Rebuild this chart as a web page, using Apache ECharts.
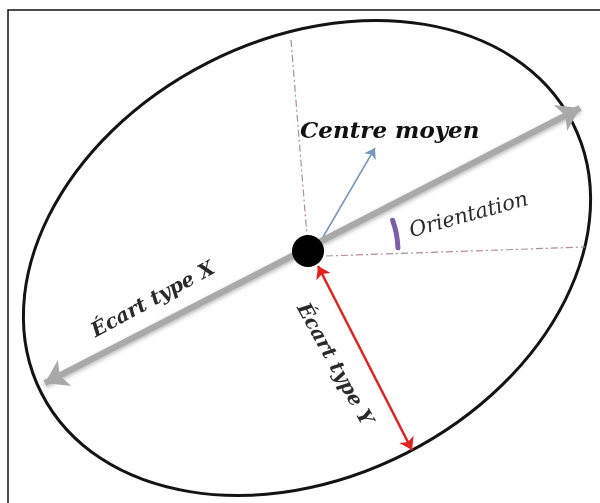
<!DOCTYPE html>
<html>
<head>
<meta charset="utf-8">
<script src="https://cdn.jsdelivr.net/npm/echarts@6/dist/echarts.min.js"></script>
<style>
  html, body { margin: 0; padding: 0; background: #fff; }
  #chart { width: 600px; height: 503px; }
</style>
</head>
<body>
<div id="chart"></div>
<script>
// geometry of the diagram, in picture units (x to the right, y downwards)
const ellipseCentre = [307, 258];
const ellipseRadii = [298, 219];
const ellipseAngle = 27;
const centrePoint = [308, 251];
const axisX = [[45, 383], [580, 108]];
const axisY = [[318, 266], [412, 450]];
const meanArrow = [[323, 237], [375, 148]];
const guideV = [[291, 40], [307, 236]];
const guideH = [[326, 256], [585, 247]];
const orientationArc = [90, -2, -20]; // radius, start angle, end angle (deg)
const labelTexts = ['Centre moyen', 'Orientation', 'Écart type X', 'Écart type Y'];
const labelAnchors = [[300, 132], [410, 232], [93, 333], [301, 305]];
const labelAngles = [0, 15.5, 28.5, -61];

const labelStyles = [
  { font: 'italic bold 23px "DejaVu Serif"', fill: '#111' },
  { font: 'italic 21px "DejaVu Serif"', fill: '#2a2a2a' },
  { font: 'italic bold 20px "DejaVu Serif"', fill: '#2a2a2a' },
  { font: 'italic bold 20px "DejaVu Serif"', fill: '#2a2a2a' },
];

const rad = d => d * Math.PI / 180;
const myChart = echarts.init(document.getElementById('chart'));

const option = {
  backgroundColor: '#fff',
  animation: false,
  grid: { left: 0, top: 0, right: 0, bottom: 0 },
  xAxis: { type: 'value', min: 0, max: 600, show: false },
  yAxis: { type: 'value', min: 0, max: 503, inverse: true, show: false },
  graphic: [
    {
      type: 'rect',
      shape: { x: 8, y: 10, width: 620, height: 520 },
      style: { fill: null, stroke: '#111', lineWidth: 1.5 },
    },
    {
      type: 'text',
      x: 22,
      y: 1,
      style: {
        text: 'Figure 3 : Principe de l’ellipse de dispersion',
        font: 'bold 24px "Liberation Serif"',
        fill: '#111',
        verticalAlign: 'bottom',
      },
    },
  ],
  series: [
    {
      type: 'custom',
      z: 2,
      data: [[ellipseCentre[0], ellipseCentre[1], ellipseRadii[0], ellipseRadii[1], ellipseAngle]],
      renderItem: (params, api) => {
        const c = api.coord([api.value(0), api.value(1)]);
        const s = api.size([api.value(2), api.value(3)]);
        return {
          type: 'ellipse',
          x: c[0],
          y: c[1],
          rotation: rad(api.value(4)),
          shape: { cx: 0, cy: 0, rx: s[0], ry: s[1] },
          style: { fill: null, stroke: '#141414', lineWidth: 3 },
        };
      },
    },
    {
      type: 'lines',
      coordinateSystem: 'cartesian2d',
      z: 3,
      symbol: ['none', 'none'],
      lineStyle: { color: '#b48a9c', width: 1.2, type: [7, 3, 2, 3], opacity: 1 },
      data: [{ coords: guideV }, { coords: guideH }],
    },
    {
      type: 'lines',
      coordinateSystem: 'cartesian2d',
      z: 4,
      symbol: ['arrow', 'arrow'],
      symbolSize: 22,
      lineStyle: {
        color: '#a9a9a9', width: 6, opacity: 1,
        shadowBlur: 4, shadowOffsetY: 2, shadowColor: 'rgba(0,0,0,0.3)',
      },
      data: [{ coords: axisX }],
    },
    {
      type: 'lines',
      coordinateSystem: 'cartesian2d',
      z: 5,
      symbol: ['none', 'arrow'],
      symbolSize: 10,
      lineStyle: { color: '#7596bd', width: 1.5, opacity: 1 },
      data: [{ coords: meanArrow }],
    },
    {
      type: 'lines',
      coordinateSystem: 'cartesian2d',
      z: 5,
      symbol: ['arrow', 'arrow'],
      symbolSize: 12,
      lineStyle: { color: '#e3211d', width: 2.5, opacity: 1 },
      data: [{ coords: axisY }],
    },
    {
      type: 'scatter',
      z: 6,
      symbolSize: 32,
      itemStyle: { color: '#000', opacity: 1 },
      data: [centrePoint],
    },
    {
      type: 'custom',
      z: 6,
      data: [[centrePoint[0], centrePoint[1], orientationArc[0], orientationArc[1], orientationArc[2]]],
      renderItem: (params, api) => {
        const c = api.coord([api.value(0), api.value(1)]);
        const r = api.size([api.value(2), 0])[0];
        return {
          type: 'arc',
          shape: {
            cx: c[0], cy: c[1], r,
            startAngle: rad(api.value(3)), endAngle: rad(api.value(4)), clockwise: false,
          },
          style: { fill: null, stroke: '#7d5fa8', lineWidth: 5, lineCap: 'round' },
        };
      },
    },
    {
      type: 'custom',
      z: 7,
      data: labelTexts.map((t, i) => [labelAnchors[i][0], labelAnchors[i][1], labelAngles[i], i]),
      renderItem: (params, api) => {
        const c = api.coord([api.value(0), api.value(1)]);
        const i = api.value(3);
        return {
          type: 'text',
          x: c[0],
          y: c[1],
          rotation: rad(api.value(2)),
          style: Object.assign({
            text: labelTexts[i],
            align: 'left',
            verticalAlign: 'middle',
            shadowBlur: 2,
            shadowColor: 'rgba(0,0,0,0.25)',
          }, labelStyles[i]),
        };
      },
    },
  ],
};
myChart.setOption(option);
</script>
</body>
</html>
